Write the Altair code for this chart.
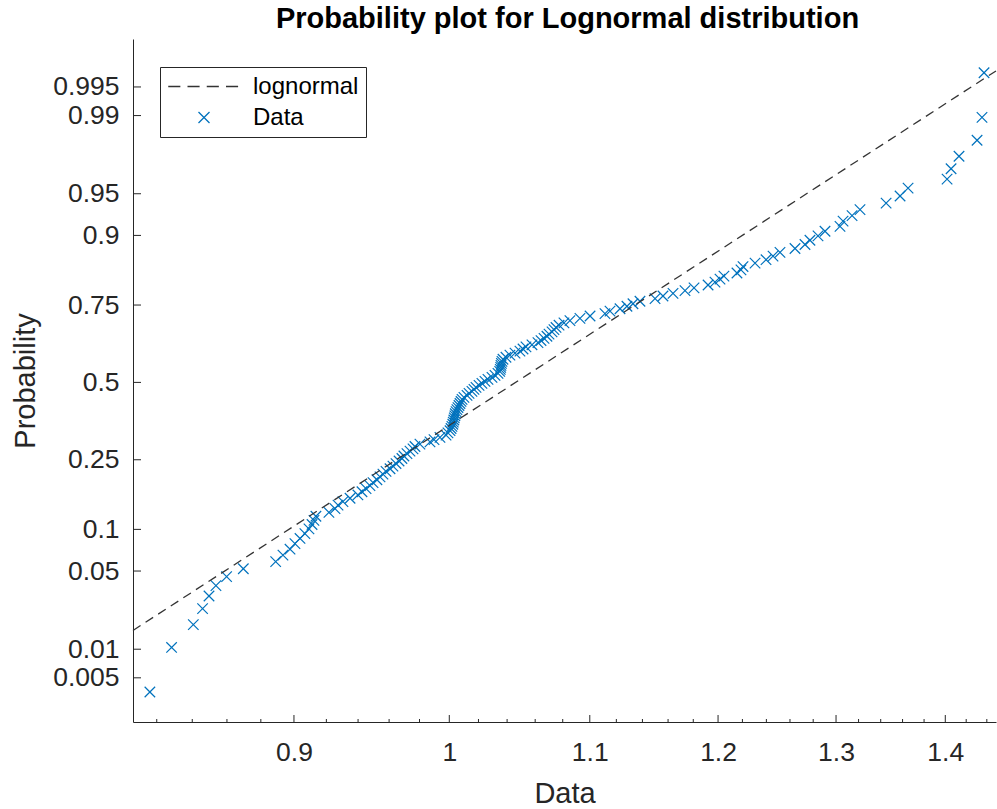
import math
from statistics import NormalDist

import altair as alt
import pandas as pd

# ---------------- data ----------------
# sorted sample values (x of each "x" marker), one per plotting position
data_values = [
    0.8162, 0.8283, 0.8406, 0.8459, 0.8496, 0.8536, 0.8598, 0.8696, 0.8889, 0.8933,
    0.8976, 0.9006, 0.9037, 0.9067, 0.9092, 0.9111, 0.9123, 0.9135, 0.9216, 0.9254,
    0.9273, 0.9304, 0.9349, 0.9399, 0.9425, 0.9451, 0.9476, 0.9496, 0.9521, 0.9541,
    0.9560, 0.9580, 0.9606, 0.9625, 0.9645, 0.9665, 0.9684, 0.9697, 0.9717, 0.9737,
    0.9757, 0.9770, 0.9803, 0.9870, 0.9897, 0.9937, 0.9978, 0.9991, 1.0005, 1.0012,
    1.0018, 1.0024, 1.0027, 1.0031, 1.0034, 1.0038, 1.0041, 1.0046, 1.0052, 1.0059,
    1.0066, 1.0073, 1.0080, 1.0087, 1.0100, 1.0121, 1.0135, 1.0155, 1.0169, 1.0183,
    1.0204, 1.0224, 1.0245, 1.0266, 1.0294, 1.0315, 1.0336, 1.0348, 1.0352, 1.0355,
    1.0357, 1.0360, 1.0364, 1.0371, 1.0392, 1.0420, 1.0456, 1.0491, 1.0513, 1.0534,
    1.0577, 1.0620, 1.0642, 1.0664, 1.0685, 1.0700, 1.0722, 1.0736, 1.0751, 1.0773,
    1.0809, 1.0853, 1.0927, 1.1002, 1.1114, 1.1152, 1.1228, 1.1281, 1.1327, 1.1381,
    1.1498, 1.1560, 1.1639, 1.1734, 1.1806, 1.1919, 1.1975, 1.2016, 1.2048, 1.2155,
    1.2188, 1.2205, 1.2305, 1.2397, 1.2456, 1.2515, 1.2643, 1.2729, 1.2772, 1.2842,
    1.2903, 1.3035, 1.3062, 1.3142, 1.3213, 1.3449, 1.3577, 1.3651, 1.4017, 1.4055,
    1.4131, 1.4305, 1.4353, 1.4373,
]

series_names = ["lognormal", "Data"]
prob_ticks = [0.005, 0.01, 0.05, 0.1, 0.25, 0.5, 0.75, 0.9, 0.95, 0.99, 0.995]
prob_labels = ["0.005", "0.01", "0.05", "0.1", "0.25", "0.5", "0.75", "0.9", "0.95", "0.99", "0.995"]
x_major_ticks = [0.9, 1.0, 1.1, 1.2, 1.3, 1.4]
x_minor_ticks = [0.82, 0.84, 0.86, 0.88, 0.92, 0.94, 0.96, 0.98, 1.02, 1.04, 1.06, 1.08,
                 1.12, 1.14, 1.16, 1.18, 1.22, 1.24, 1.26, 1.28, 1.32, 1.34, 1.36, 1.38,
                 1.42, 1.44]
fit_mu = 0.045      # fitted lognormal parameters (reference line)
fit_sigma = 0.120
x_domain = [0.8069, 1.4490]
z_domain = [-2.961, 2.994]   # probability axis limits on the normal-quantile scale

# ---------------- styling ----------------
FONT = "Liberation Sans"
AXIS_COLOR = "#262626"
BLUE = "#0072BD"
LINE_COLOR = "#333333"
PLOT_W, PLOT_H = 863, 683
X_PATH = "M-1,-1L1,1M-1,1L1,-1"
DASH_PATH = "M-6.5,0L-4.3,0M-3.0,0L-0.8,0M0.5,0L2.7,0M4.0,0L6.2,0"
TICK_FS = 26.5
LABEL_FS = 29

# ---------------- derived tables ----------------
nd = NormalDist()
n = len(data_values)
points = pd.DataFrame({
    "x": data_values,
    "z": [nd.inv_cdf((i + 0.5) / n) for i in range(n)],
    "series": "Data",
})
fit_line = pd.DataFrame({
    "x": x_domain,
    "z": [(math.log(v) - fit_mu) / fit_sigma for v in x_domain],
    "series": "lognormal",
})
z_ticks = [nd.inv_cdf(p) for p in prob_ticks]
ytick_df = pd.DataFrame({"z": z_ticks})
xmajor_df = pd.DataFrame({"x": x_major_ticks})
xminor_df = pd.DataFrame({"x": x_minor_ticks})

label_expr = ""
for k in range(len(z_ticks) - 1):
    mid = (z_ticks[k] + z_ticks[k + 1]) / 2
    label_expr += f"datum.value < {mid:.4f} ? '{prob_labels[k]}' : "
label_expr += f"'{prob_labels[-1]}'"

xs = alt.Scale(type="log", domain=x_domain, nice=False)
ys = alt.Scale(domain=z_domain, nice=False, zero=False)
color_scale = alt.Scale(domain=series_names, range=[LINE_COLOR, BLUE])
shape_scale = alt.Scale(domain=series_names, range=[DASH_PATH, X_PATH])

legend = alt.Legend(
    title=None, orient="none", legendX=27, legendY=28, direction="vertical",
    fillColor="white", strokeColor=AXIS_COLOR, padding=7.5, cornerRadius=0,
    symbolSize=121, symbolStrokeWidth=1.3, symbolOpacity=1, symbolOffset=24.5,
    labelOffset=37, labelFont=FONT, labelFontSize=24, labelColor="#000000",
    labelLimit=400, rowPadding=7,
)

x_axis = alt.Axis(
    values=x_major_ticks, format="~g", title="Data", ticks=False, tickSize=0,
    grid=False, labelPadding=17, labelFont=FONT, labelFontSize=TICK_FS, labelColor=AXIS_COLOR,
    labelFlush=False, domainColor=AXIS_COLOR, domainWidth=1,
    titleFont=FONT, titleFontSize=LABEL_FS, titleFontWeight="normal", titleColor=AXIS_COLOR,
    titlePadding=14,
)
y_axis = alt.Axis(
    values=z_ticks, labelExpr=label_expr, title="Probability", ticks=False, tickSize=0,
    grid=False, labelPadding=14, labelFont=FONT, labelFontSize=TICK_FS, labelColor=AXIS_COLOR,
    labelFlush=False, domainColor=AXIS_COLOR, domainWidth=1,
    titleFont=FONT, titleFontSize=LABEL_FS, titleFontWeight="normal", titleColor=AXIS_COLOR,
    titlePadding=12,
)


def X(field="x:Q"):
    return alt.X(field, scale=xs, axis=x_axis)


def Y(field="z:Q"):
    return alt.Y(field, scale=ys, axis=y_axis)


pts_layer = alt.Chart(points).mark_point(filled=False, opacity=1, strokeWidth=1.2, size=110).encode(
    x=X(), y=Y(),
    color=alt.Color("series:N", scale=color_scale, legend=legend),
    shape=alt.Shape("series:N", scale=shape_scale, legend=legend),
)

line_layer = alt.Chart(fit_line).mark_line().encode(
    x=X(), y=Y(),
    color=alt.Color("series:N", scale=color_scale, legend=legend),
    strokeDash=alt.value([9, 6]),
    strokeWidth=alt.value(1.3),
)

ytick_layer = alt.Chart(ytick_df).mark_rule(color=AXIS_COLOR, strokeWidth=1).encode(
    y=Y(), x=alt.value(0), x2=alt.value(8),
)
xmajor_layer = alt.Chart(xmajor_df).mark_rule(color=AXIS_COLOR, strokeWidth=1).encode(
    x=X(), y=alt.value(PLOT_H), y2=alt.value(PLOT_H - 7),
)
xminor_layer = alt.Chart(xminor_df).mark_rule(color=AXIS_COLOR, strokeWidth=1).encode(
    x=X(), y=alt.value(PLOT_H), y2=alt.value(PLOT_H - 3),
)

chart = alt.layer(
    pts_layer, line_layer, ytick_layer, xmajor_layer, xminor_layer
).properties(
    width=PLOT_W,
    height=PLOT_H,
    autosize=alt.AutoSizeParams(type="none"),
    padding={"left": 133, "top": 39, "right": 1, "bottom": 87},
    title=alt.TitleParams(
        "Probability plot for Lognormal distribution", font=FONT, fontSize=LABEL_FS,
        fontWeight="bold", color="#000000", anchor="middle", frame="group",
        baseline="alphabetic", offset=11, dx=3, dy=29,
    ),
).configure_view(stroke=None)

chart.save("out.html", embed_options={"renderer": "svg", "actions": False})
